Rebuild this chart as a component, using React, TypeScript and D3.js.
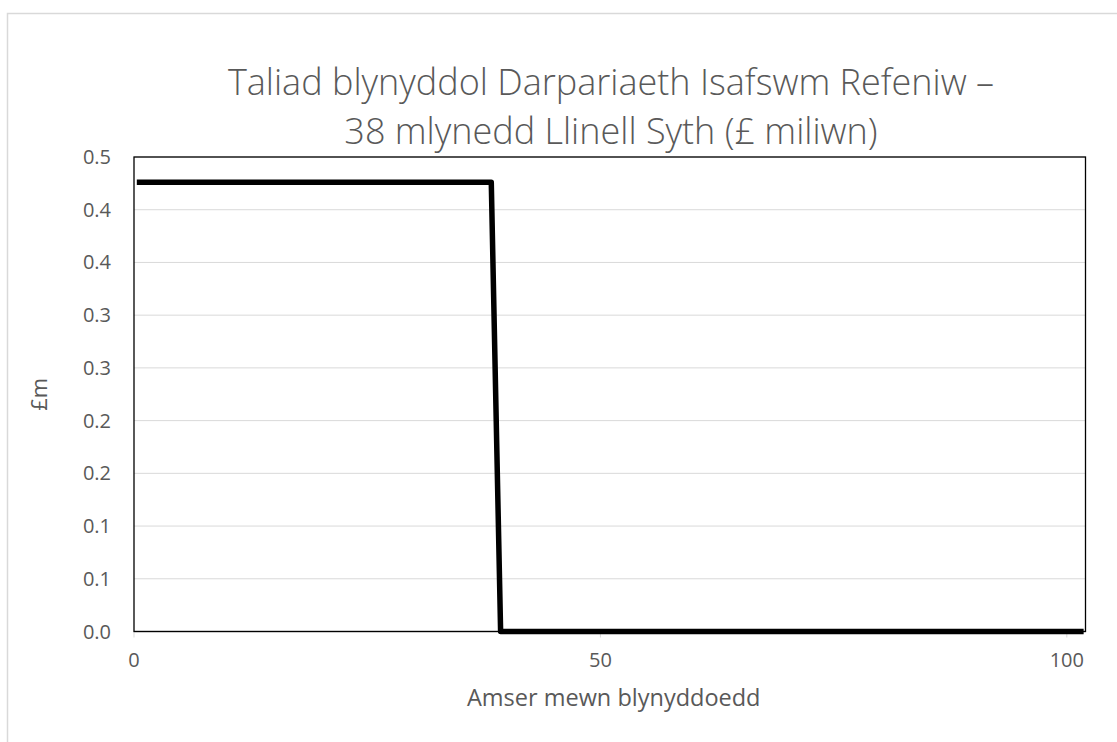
import React, { useEffect, useRef } from 'react';
import * as d3 from 'd3';

// years on the x axis and the annual charge (£m)
const years = [0.3, 38.3, 39.3, 101.8];
const payments = [0.426, 0.426, 0, 0];

const yTickValues = [0, 0.05, 0.1, 0.15, 0.2, 0.25, 0.3, 0.35, 0.4, 0.45];
const yTickLabels = ['0.0', '0.1', '0.1', '0.2', '0.2', '0.3', '0.3', '0.4', '0.4', '0.5'];
const xTickValues = [0, 50, 100];

const titleLines = ['Taliad blynyddol Darpariaeth Isafswm Refeniw –', '38 mlynedd Llinell Syth (£ miliwn)'];

const App = () => {
  const svgRef = useRef<SVGSVGElement>(null);

  useEffect(() => {
    const width = 1117;
    const height = 742;
    const plot = { left: 134, right: 1085.5, top: 157, bottom: 631.5 };
    const font = "'Open Sans', sans-serif";

    const svg = d3.select(svgRef.current).attr('width', width).attr('height', height);
    svg.selectAll('*').remove();

    // outer chart frame
    svg.append('rect')
      .attr('x', 7.5).attr('y', 13.5)
      .attr('width', width + 20).attr('height', height + 20)
      .attr('fill', '#fff').attr('stroke', '#d9d9d9').attr('stroke-width', 1.5);

    const x = d3.scaleLinear().domain([0, 102]).range([plot.left, plot.right]);
    const y = d3.scaleLinear().domain([0, 0.45]).range([plot.bottom, plot.top]);

    // gridlines
    svg.append('g')
      .selectAll('line')
      .data(yTickValues.filter(v => v > 0))
      .join('line')
      .attr('x1', plot.left).attr('x2', plot.right)
      .attr('y1', d => y(d)).attr('y2', d => y(d))
      .attr('stroke', '#d9d9d9').attr('stroke-width', 1);

    // y tick labels
    svg.append('g')
      .selectAll('text')
      .data(yTickValues)
      .join('text')
      .attr('x', 111)
      .attr('y', d => y(d))
      .attr('dy', '0.35em')
      .attr('text-anchor', 'end')
      .attr('font-family', font).attr('font-size', 20).attr('fill', '#595959')
      .text((d, i) => yTickLabels[i]);

    // x axis line + ticks
    svg.append('line')
      .attr('x1', plot.left).attr('x2', plot.right)
      .attr('y1', y(0)).attr('y2', y(0))
      .attr('stroke', '#bfbfbf').attr('stroke-width', 1.5);

    svg.append('g')
      .selectAll('line')
      .data(xTickValues)
      .join('line')
      .attr('x1', d => x(d)).attr('x2', d => x(d))
      .attr('y1', y(0)).attr('y2', y(0) + 6)
      .attr('stroke', '#d9d9d9').attr('stroke-width', 1);

    svg.append('g')
      .selectAll('text')
      .data(xTickValues)
      .join('text')
      .attr('x', d => x(d))
      .attr('y', 667)
      .attr('text-anchor', 'middle')
      .attr('font-family', font).attr('font-size', 20).attr('fill', '#595959')
      .text(d => d);

    // plot area border
    svg.append('rect')
      .attr('x', plot.left).attr('y', plot.top)
      .attr('width', plot.right - plot.left).attr('height', plot.bottom - plot.top)
      .attr('fill', 'none').attr('stroke', '#000').attr('stroke-width', 1.3);

    // data line
    const line = d3.line<number>()
      .x((d, i) => x(years[i]))
      .y(d => y(d));

    svg.append('path')
      .datum(payments)
      .attr('fill', 'none')
      .attr('stroke', '#000')
      .attr('stroke-width', 5.5)
      .attr('stroke-linejoin', 'round')
      .attr('d', line);

    // titles
    svg.append('g')
      .selectAll('text')
      .data(titleLines)
      .join('text')
      .attr('x', 611)
      .attr('y', (d, i) => 95 + i * 49)
      .attr('text-anchor', 'middle')
      .attr('font-family', font).attr('font-size', 36).attr('font-weight', 300).attr('fill', '#595959')
      .text(d => d);

    svg.append('text')
      .attr('transform', `translate(47, ${(plot.top + plot.bottom) / 2}) rotate(-90)`)
      .attr('text-anchor', 'middle')
      .attr('font-family', font).attr('font-size', 22).attr('fill', '#595959')
      .text('£m');

    svg.append('text')
      .attr('x', (plot.left + plot.right) / 2 + 4)
      .attr('y', 706)
      .attr('text-anchor', 'middle')
      .attr('font-family', font).attr('font-size', 23.5).attr('fill', '#595959')
      .text('Amser mewn blynyddoedd');
  }, []);

  return <svg ref={svgRef} style={{ position: 'absolute', left: 0, top: 0, display: 'block' }}></svg>;
};

export default App;
